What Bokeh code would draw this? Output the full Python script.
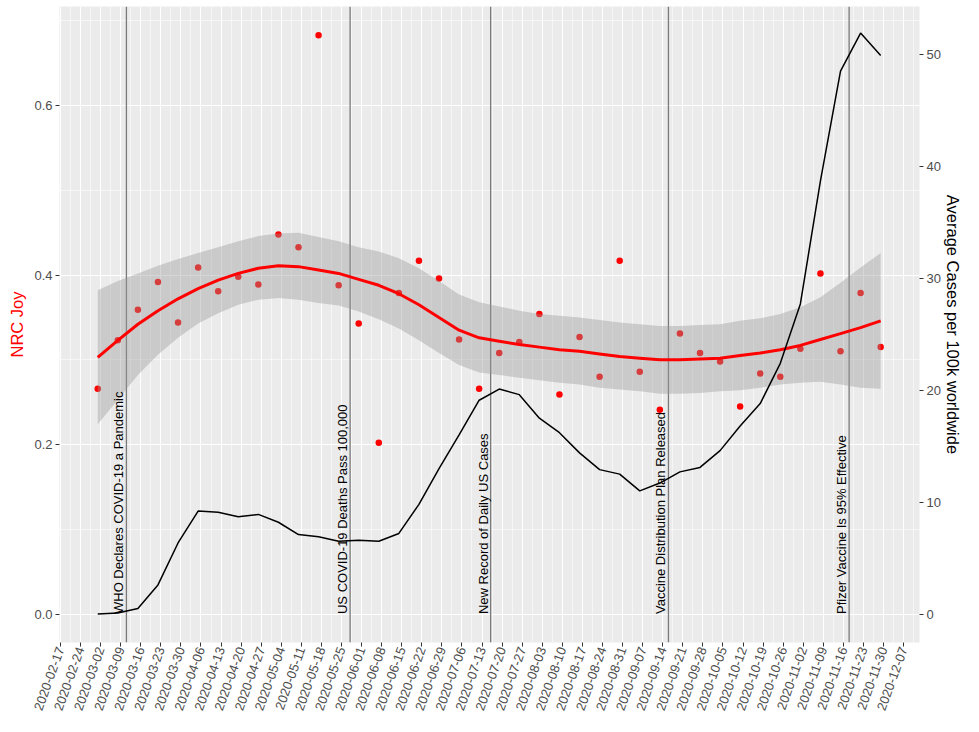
import math
import pandas as pd
from bokeh.plotting import figure
from bokeh.models import (Range1d, LinearAxis, FixedTicker, DatetimeTickFormatter,
                          NumeralTickFormatter, Title)
from bokeh.core.properties import value
from bokeh.embed import file_html
from bokeh.resources import INLINE

# ---------------- data ----------------
week_dates = pd.date_range("2020-03-01", periods=40, freq="7D")

joy = [0.266, 0.323, 0.359, 0.392, 0.344, 0.409, 0.381, 0.398, 0.389, 0.448,
       0.433, 0.683, 0.388, 0.343, 0.202, 0.379, 0.417, 0.396, 0.324, 0.266,
       0.308, 0.321, 0.354, 0.259, 0.327, 0.280, 0.417, 0.286, 0.241, 0.331,
       0.308, 0.298, 0.245, 0.284, 0.280, 0.313, 0.402, 0.310, 0.379, 0.315]

smooth_fit = [0.303, 0.323, 0.342, 0.358, 0.372, 0.384, 0.394, 0.402, 0.408, 0.411,
              0.410, 0.406, 0.402, 0.395, 0.388, 0.378, 0.365, 0.350, 0.335, 0.326,
              0.322, 0.318, 0.315, 0.312, 0.310, 0.307, 0.304, 0.302, 0.300, 0.300,
              0.301, 0.302, 0.305, 0.308, 0.312, 0.317, 0.324, 0.331, 0.338, 0.346]

smooth_upper = [0.382, 0.393, 0.402, 0.411, 0.419, 0.426, 0.433, 0.440, 0.446, 0.449,
                0.450, 0.445, 0.440, 0.433, 0.428, 0.420, 0.408, 0.393, 0.377, 0.368,
                0.363, 0.358, 0.354, 0.352, 0.350, 0.347, 0.344, 0.342, 0.340, 0.340,
                0.341, 0.342, 0.346, 0.349, 0.354, 0.362, 0.374, 0.391, 0.409, 0.426]

smooth_lower = [0.224, 0.253, 0.282, 0.306, 0.326, 0.343, 0.355, 0.365, 0.371, 0.373,
                0.371, 0.367, 0.364, 0.357, 0.348, 0.337, 0.323, 0.308, 0.294, 0.285,
                0.282, 0.279, 0.276, 0.273, 0.271, 0.267, 0.265, 0.263, 0.260, 0.260,
                0.261, 0.263, 0.264, 0.267, 0.271, 0.273, 0.274, 0.271, 0.267, 0.266]

cases_per_100k = [0.0, 0.1, 0.5, 2.6, 6.35, 9.2, 9.1, 8.7, 8.9, 8.2,
                  7.1, 6.9, 6.5, 6.6, 6.5, 7.2, 9.8, 13.0, 16.0, 19.1,
                  20.1, 19.6, 17.5, 16.2, 14.4, 12.9, 12.5, 11.0, 11.7, 12.7,
                  13.1, 14.6, 16.8, 18.8, 22.4, 27.7, 38.7, 48.5, 51.9, 49.9]

event_dates = pd.to_datetime(["2020-03-11", "2020-05-28", "2020-07-16",
                              "2020-09-16", "2020-11-18"])
event_labels = ["WHO Declares COVID-19 a Pandemic",
                "US COVID-19 Deaths Pass 100,000",
                "New Record of Daily US Cases",
                "Vaccine Distribution Plan Released",
                "Pfizer Vaccine Is 95% Effective"]

x_tick_dates = pd.date_range("2020-02-17", "2020-12-07", freq="7D")
y_left_ticks = [0.0, 0.2, 0.4, 0.6]
y_left_minor = [0.1, 0.3, 0.5, 0.7]
y_right_ticks = [0, 10, 20, 30, 40, 50]

SEC_SCALE = 75.7          # cases per unit of joy on the secondary axis
Y_LO, Y_HI = -0.0336, 0.717
X_START = pd.Timestamp("2020-02-17") - pd.Timedelta(hours=8)
X_END = pd.Timestamp("2020-12-07") + pd.Timedelta(hours=133)

FONT = "Liberation Sans"

# ---------------- figure ----------------
p = figure(width=963, height=716, x_axis_type="datetime",
           x_range=Range1d(X_START, X_END), y_range=Range1d(Y_LO, Y_HI),
           output_backend="svg", toolbar_location=None,
           min_border_left=59, min_border_right=0, min_border_top=6, min_border_bottom=0,
           background_fill_color="#EBEBEB", border_fill_color="white",
           outline_line_color=None)
p.extra_y_ranges = {"cases": Range1d(Y_LO * SEC_SCALE, Y_HI * SEC_SCALE)}

def ms(idx):
    return [t.value / 1e6 for t in idx]

major_ms = ms(x_tick_dates)
minor_ms = [m + 3.5 * 86400000 for m in major_ms]

xaxis = p.xaxis[0]
xaxis.ticker = FixedTicker(ticks=major_ms, minor_ticks=minor_ms)
fmt = "%Y-%m-%d"
xaxis.formatter = DatetimeTickFormatter(days=fmt, months=fmt, years=fmt, hours=fmt,
                                        hourmin=fmt, minutes=fmt, minsec=fmt, seconds=fmt,
                                        milliseconds=fmt, microseconds=fmt)
xaxis.major_label_orientation = math.radians(70)

left = p.yaxis[0]
left.ticker = FixedTicker(ticks=y_left_ticks, minor_ticks=y_left_minor)
left.formatter = NumeralTickFormatter(format="0.0")
left.axis_label = "NRC Joy"
left.axis_label_text_color = "red"

right = LinearAxis(y_range_name="cases", ticker=FixedTicker(ticks=y_right_ticks))
p.add_layout(right, "right")

for ax in (xaxis, left, right):
    ax.axis_line_color = None
    ax.major_tick_line_color = "#333333"
    ax.major_tick_out = 4
    ax.major_tick_in = 0
    ax.minor_tick_out = 0
    ax.minor_tick_line_color = None
    ax.major_label_text_color = "#4D4D4D"
    ax.major_label_text_font = FONT
    ax.major_label_text_font_size = "13px"
    ax.axis_label_text_font = FONT
    ax.axis_label_text_font_size = "16.5px"
    ax.axis_label_text_font_style = "normal"
right.major_label_standoff = 3
left.major_label_standoff = 3
left.axis_label_standoff = 5
xaxis.major_label_standoff = 1

# secondary-axis title (outside the right axis)
sec_title = Title(text="Average Cases per 100k worldwide", align="center",
                  text_font=FONT, text_font_size="16.5px", text_font_style="normal",
                  text_color="black", standoff=0, offset=0)
p.add_layout(sec_title, "right")

for g in (p.xgrid[0], p.ygrid[0]):
    g.grid_line_color = "white"
    g.grid_line_width = 1.1
    g.minor_grid_line_color = "white"
    g.minor_grid_line_width = 0.55

# event lines
p.segment(x0=event_dates, y0=[Y_LO] * len(event_dates), x1=event_dates,
          y1=[Y_HI] * len(event_dates), line_color="#7A7A7A", line_width=1.3)

# points
p.scatter(x=week_dates, y=joy, size=6.5, fill_color="red", line_color=None)

# confidence ribbon
p.varea(x=week_dates, y1=smooth_lower, y2=smooth_upper, fill_color="#999999", fill_alpha=0.4)

# smooth line
p.line(x=week_dates, y=smooth_fit, line_color="red", line_width=3)

# cases line (secondary axis)
p.line(x=week_dates, y=cases_per_100k, y_range_name="cases", line_color="black", line_width=1.5)

# event labels
p.text(x=event_dates, y=[0.0] * len(event_dates), text=event_labels, angle=math.pi / 2,
       text_align="left", text_baseline="bottom", text_font=value(FONT),
       text_font_size="13px", text_color="black")

open("out.html", "w").write(file_html(p, INLINE))
